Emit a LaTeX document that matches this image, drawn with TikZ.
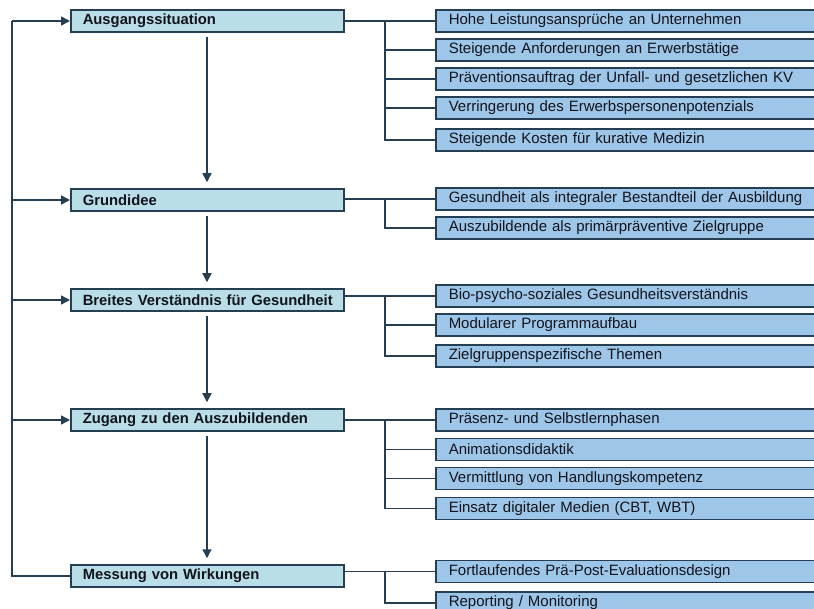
\documentclass[tikz,border=0pt]{standalone}
\usepackage{fontspec}
\setmainfont{Liberation Sans}
\usetikzlibrary{arrows.meta}
\definecolor{linec}{RGB}{38,62,82}
\definecolor{mainfill}{RGB}{186,222,232}
\definecolor{subfill}{RGB}{158,198,232}
\definecolor{txtc}{RGB}{18,20,28}
\tikzset{
  mainbox/.style={draw=linec, line width=1.5pt, fill=mainfill, anchor=west,
    minimum height=22pt, text width=262pt, inner xsep=5.5pt, inner ysep=0pt,
    align=left, font=\fontsize{14.8}{16}\selectfont\bfseries, text=txtc,
    execute at begin node={\hspace*{6.5pt}}},
  subbox/.style={draw=linec, line width=1.5pt, fill=subfill, anchor=west,
    minimum height=22pt, text width=390pt, inner xsep=13pt, inner ysep=0pt,
    align=left, font=\fontsize{15}{16}\selectfont, text=txtc},
  conn/.style={draw=linec, line width=1.5pt},
  arr/.style={conn, -{Triangle[length=9pt,width=9pt]}},
  downarr/.style={arr, shorten <=4pt, shorten >=6pt}
}
\begin{document}
\begin{tikzpicture}[x=1pt,y=-1pt]
\clip (0,0) rectangle (814,609);
\fill[white] (0,0) rectangle (814,609);
\coordinate (lx) at (12,0);
\coordinate (bx) at (385,0);
% main boxes
\node[mainbox] (A) at (70,21) {Ausgangssituation};
\node[mainbox] (G) at (70,200) {Grundidee};
\node[mainbox] (B) at (70,300) {Breites Verständnis für Gesundheit};
\node[mainbox] (Z) at (70,420) {Zugang zu den Auszubildenden};
\node[mainbox] (M) at (70,576) {Messung von Wirkungen};
% sub boxes
\node[subbox] (A1) at (435,21) {Hohe Leistungsansprüche an Unternehmen};
\node[subbox] (A2) at (435,50) {Steigende Anforderungen an Erwerbstätige};
\node[subbox] (A3) at (435,79) {Präventionsauftrag der Unfall- und gesetzlichen KV};
\node[subbox] (A4) at (435,108) {Verringerung des Erwerbspersonenpotenzials};
\node[subbox] (A5) at (435,140) {Steigende Kosten für kurative Medizin};
\node[subbox] (G1) at (435,199) {Gesundheit als integraler Bestandteil der Ausbildung};
\node[subbox] (G2) at (435,228) {Auszubildende als primärpräventive Zielgruppe};
\node[subbox] (B1) at (435,296) {Bio-psycho-soziales Gesundheitsverständnis};
\node[subbox] (B2) at (435,325) {Modularer Programmaufbau};
\node[subbox] (B3) at (435,356) {Zielgruppenspezifische Themen};
\node[subbox] (Z1) at (435,420) {Präsenz- und Selbstlernphasen};
\node[subbox] (Z2) at (435,449.5) {Animationsdidaktik};
\node[subbox] (Z3) at (435,478.5) {Vermittlung von Handlungskompetenz};
\node[subbox] (Z4) at (435,508.5) {Einsatz digitaler Medien (CBT, WBT)};
\node[subbox] (M1) at (435,571.5) {Fortlaufendes Prä-Post-Evaluationsdesign};
\node[subbox] (M2) at (435,603) {Reporting / Monitoring};
% left feedback line
\draw[conn] (lx |- A.west) -- (lx |- M.west) -- (M.west);
\draw[arr] (lx |- A.west) -- (A.west);
\draw[arr] (lx |- G.west) -- (G.west);
\draw[arr] (lx |- B.west) -- (B.west);
\draw[arr] (lx |- Z.west) -- (Z.west);
% vertical flow
\draw[downarr] (A.south -| 207,0) -- (G.north -| 207,0);
\draw[downarr] (G.south -| 207,0) -- (B.north -| 207,0);
\draw[downarr] (B.south -| 207,0) -- (Z.north -| 207,0);
\draw[downarr] (Z.south -| 207,0) -- (M.north -| 207,0);
% branches
\draw[conn] (A.east |- A1.west) -- (A1.west);
\draw[conn] (bx |- A1.west) -- (bx |- A5.west) -- (A5.west);
\foreach \n in {A2,A3,A4} \draw[conn] (bx |- \n.west) -- (\n.west);
\draw[conn] (G.east |- G1.west) -- (G1.west);
\draw[conn] (bx |- G1.west) -- (bx |- G2.west) -- (G2.west);
\draw[conn] (B.east |- B1.west) -- (B1.west);
\draw[conn] (bx |- B1.west) -- (bx |- B3.west) -- (B3.west);
\draw[conn] (bx |- B2.west) -- (B2.west);
\draw[conn] (Z.east |- Z1.west) -- (Z1.west);
\draw[conn] (bx |- Z1.west) -- (bx |- Z4.west) -- (Z4.west);
\foreach \n in {Z2,Z3} \draw[conn] (bx |- \n.west) -- (\n.west);
\draw[conn] (M.east |- M1.west) -- (M1.west);
\draw[conn] (bx |- M1.west) -- (bx |- M2.west) -- (M2.west);
\end{tikzpicture}
\end{document}
